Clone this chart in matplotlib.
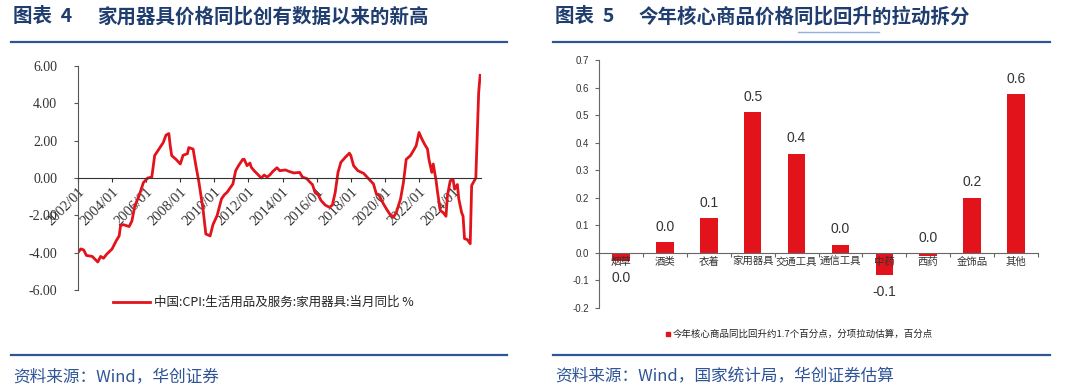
import numpy as np
import pandas as pd
import matplotlib
matplotlib.use('Agg')
import matplotlib.pyplot as plt
import matplotlib.dates as mdates
from matplotlib.lines import Line2D

plt.rcParams['font.family'] = ['Noto Sans CJK SC', 'DejaVu Sans']

# left chart: household appliance CPI yoy
months = ['2002-01', '2002-03', '2002-05', '2002-07', '2002-11', '2003-01', '2003-03', '2003-05',
          '2003-07', '2003-09', '2004-01', '2004-04', '2004-06', '2004-07', '2004-09', '2005-01',
          '2005-03', '2005-05', '2005-08', '2005-11', '2006-02', '2006-05', '2006-07', '2006-10',
          '2007-01', '2007-03', '2007-05', '2007-06', '2007-07', '2007-10', '2008-01', '2008-03',
          '2008-06', '2008-07', '2008-10', '2008-12', '2009-02', '2009-05', '2009-07', '2009-10',
          '2009-12', '2010-03', '2010-06', '2010-08', '2010-10', '2011-02', '2011-04', '2011-06',
          '2011-09', '2011-10', '2011-12', '2012-02', '2012-03', '2012-05', '2012-08', '2012-10',
          '2012-12', '2013-02', '2013-04', '2013-06', '2013-09', '2013-11', '2014-03', '2014-06',
          '2014-09', '2015-01', '2015-03', '2015-06', '2015-08', '2015-10', '2015-12', '2016-02',
          '2016-04', '2016-07', '2016-10', '2016-12', '2017-02', '2017-04', '2017-06', '2017-09',
          '2017-12', '2018-01', '2018-03', '2018-06', '2018-10', '2019-01', '2019-05', '2019-07',
          '2019-09', '2019-12', '2020-02', '2020-05', '2020-07', '2020-09', '2020-12', '2021-02',
          '2021-04', '2021-07', '2021-09', '2021-11', '2022-01', '2022-03', '2022-05', '2022-07',
          '2022-08', '2022-10', '2022-11', '2023-01', '2023-02', '2023-04', '2023-06', '2023-08',
          '2023-09', '2023-11', '2024-01', '2024-02', '2024-04', '2024-05', '2024-07', '2024-08',
          '2024-09', '2024-11', '2025-01', '2025-02', '2025-04', '2025-05', '2025-07', '2025-08']
yoy = [-4.0, -3.8, -3.85, -4.15, -4.2, -4.35, -4.5, -4.2,
       -4.3, -4.1, -3.8, -3.35, -3.1, -2.55, -2.5, -2.6,
       -2.3, -1.5, -0.95, -0.25, 0.0, 0.05, 1.2, 1.55,
       1.9, 2.3, 2.38, 1.7, 1.2, 1.0, 0.75, 1.22,
       1.3, 1.63, 1.55, 0.65, -0.2, -1.65, -3.0, -3.1,
       -2.5, -2.0, -1.12, -0.9, -0.76, -0.32, 0.39, 0.66,
       1.0, 1.0, 0.66, 0.8, 0.57, 0.39, 0.16, 0.0,
       0.16, 0.05, 0.16, 0.34, 0.55, 0.39, 0.43, 0.34,
       0.27, 0.3, 0.05, -0.03, -0.2, -0.35, -0.8, -0.9,
       -1.2, -1.45, -1.57, -1.45, -0.76, 0.3, 0.84, 1.1,
       1.33, 1.2, 0.66, 0.39, 0.25, 0.0, -0.32, -0.85,
       -0.95, -1.39, -1.65, -2.0, -2.1, -1.85, -1.12, -0.23,
       1.0, 1.2, 1.46, 1.73, 2.44, 2.1, 1.8, 1.55,
       1.0, 0.3, 0.75, -0.14, -0.76, -1.74, -1.85, -2.05,
       -0.94, -0.14, -0.1, -0.6, -0.35, -1.12, -1.85, -2.05,
       -3.25, -3.3, -3.52, -0.4, -0.14, 0.0, 4.57, 5.5]

# right chart: contribution breakdown, percentage points
cats = ['烟草', '酒类', '衣着', '家用器具', '交通工具', '通信工具', '中药', '西药', '金饰品', '其他']
pull = [-0.03, 0.04, 0.125, 0.51, 0.36, 0.03, -0.08, -0.01, 0.2, 0.575]

RED = '#e3131b'
NAVY = '#1f3d6e'
BLUE = '#2f5597'
W, H = 1080, 388


def fx(px):
    return px / W


def fy(py):
    return 1 - py / H


fig = plt.figure(figsize=(10.8, 3.88), dpi=100)
fig.patch.set_facecolor('white')

# headers / footers
for x0, x1, num, title, src in [(11, 507, '4', '家用器具价格同比创有数据以来的新高', '资料来源：Wind，华创证券'),
                                (553, 1050, '5', '今年核心商品价格同比回升的拉动拆分', '资料来源：Wind，国家统计局，华创证券估算')]:
    fig.text(fx(x0 + 2), fy(17), '图表  ' + num, fontsize=14, fontweight='bold', color=NAVY, va='center')
    fig.text(fx(x0 + 86), fy(17), title, fontsize=14, fontweight='bold', color=NAVY, va='center')
    fig.add_artist(Line2D([fx(x0), fx(x1)], [fy(42), fy(42)], color=BLUE, lw=1.6))
    fig.add_artist(Line2D([fx(x0), fx(x1)], [fy(355), fy(355)], color=BLUE, lw=1.6))
    fig.text(fx(x0 + 2), fy(377), src, fontsize=12, color=BLUE, style='italic', va='center')
# underline under 同比回升
fig.add_artist(Line2D([fx(798), fx(879)], [fy(32), fy(32)], color='#8fb0e0', lw=1.0))

# ---- left chart ----
ax1 = fig.add_axes([fx(78), fy(290), fx(481) - fx(78), fy(66) - fy(290)])
dates = pd.to_datetime(months)
ax1.plot(dates, yoy, color=RED, lw=2.0)
ax1.set_ylim(-6, 6)
ax1.set_yticks(np.arange(-6, 7, 2))
ax1.yaxis.set_major_formatter(matplotlib.ticker.FormatStrFormatter('%.2f'))
ax1.set_xlim(pd.Timestamp('2002-01-01'), pd.Timestamp('2025-08-20'))
ax1.xaxis.set_major_locator(mdates.YearLocator(2, month=1, day=1))
ax1.xaxis.set_major_formatter(mdates.DateFormatter('%Y/%m'))
ax1.spines['bottom'].set_position(('data', 0))
for s in ['top', 'right']:
    ax1.spines[s].set_visible(False)
ax1.spines['left'].set_color('#555555')
ax1.spines['bottom'].set_color('#333333')
ax1.tick_params(axis='y', direction='out', length=3, pad=12, labelsize=10, colors='#555555',
                labelcolor='#333333')
ax1.tick_params(axis='x', direction='out', length=3, pad=2, labelsize=10.5, colors='#333333')
for lab in ax1.get_yticklabels() + ax1.get_xticklabels():
    lab.set_family('Liberation Serif')
for lab in ax1.get_xticklabels():
    lab.set_rotation(45)
    lab.set_ha('right')
    lab.set_va('top')
    lab.set_rotation_mode('anchor')

fig.add_artist(Line2D([fx(113), fx(150)], [fy(302), fy(302)], color=RED, lw=2.0))
fig.text(fx(154), fy(302), '中国:CPI:生活用品及服务:家用器具:当月同比 %', fontsize=9, color='#222222',
         va='center')

# ---- right chart ----
ax2 = fig.add_axes([fx(599), fy(308), fx(1038) - fx(599), fy(60) - fy(308)])
xpos = np.arange(len(cats))
ax2.bar(xpos, pull, width=0.4, color=RED, zorder=2)
ax2.set_xlim(-0.5, len(cats) - 0.5)
ax2.set_ylim(-0.2, 0.7)
ax2.set_yticks(np.round(np.arange(-0.2, 0.71, 0.1), 1))
ax2.yaxis.set_major_formatter(matplotlib.ticker.FormatStrFormatter('%.1f'))
ax2.set_xticks(np.arange(-0.5, len(cats), 1))
ax2.set_xticklabels([])
ax2.spines['bottom'].set_position(('data', 0))
for s in ['top', 'right']:
    ax2.spines[s].set_visible(False)
ax2.spines['left'].set_color('#666666')
ax2.spines['bottom'].set_color('#666666')
ax2.tick_params(axis='y', direction='out', length=3, pad=4, labelsize=7, colors='#666666',
                labelcolor='#333333')
ax2.tick_params(axis='x', direction='out', length=3, colors='#666666')
for lab in ax2.get_yticklabels():
    lab.set_family('Liberation Sans')

for i, (c, v) in enumerate(zip(cats, pull)):
    ax2.annotate(c, xy=(i, 0), xytext=(0, -3), textcoords='offset points', ha='center', va='top',
                 fontsize=7.5, color='#333333', zorder=3)
    txt = f'{v:.1f}'
    if txt == '-0.0':
        txt = '0.0'
    # tiny negatives keep their label above the zero line
    if v >= -0.015:
        ax2.annotate(txt, xy=(i, max(v, 0)), xytext=(0, 11), textcoords='offset points', ha='center',
                     va='center', fontsize=10, color='#333333', family='Liberation Sans')
    else:
        ax2.annotate(txt, xy=(i, v), xytext=(0, -12), textcoords='offset points', ha='center',
                     va='center', fontsize=10, color='#333333', family='Liberation Sans')

fig.add_artist(Line2D([fx(668)], [fy(334)], marker='s', markersize=3.5, color=RED, lw=0))
fig.text(fx(673), fy(334), '今年核心商品同比回升约1.7个百分点，分项拉动估算，百分点', fontsize=6.8,
         color='#222222', va='center')

fig.savefig('out.png', dpi=100)
